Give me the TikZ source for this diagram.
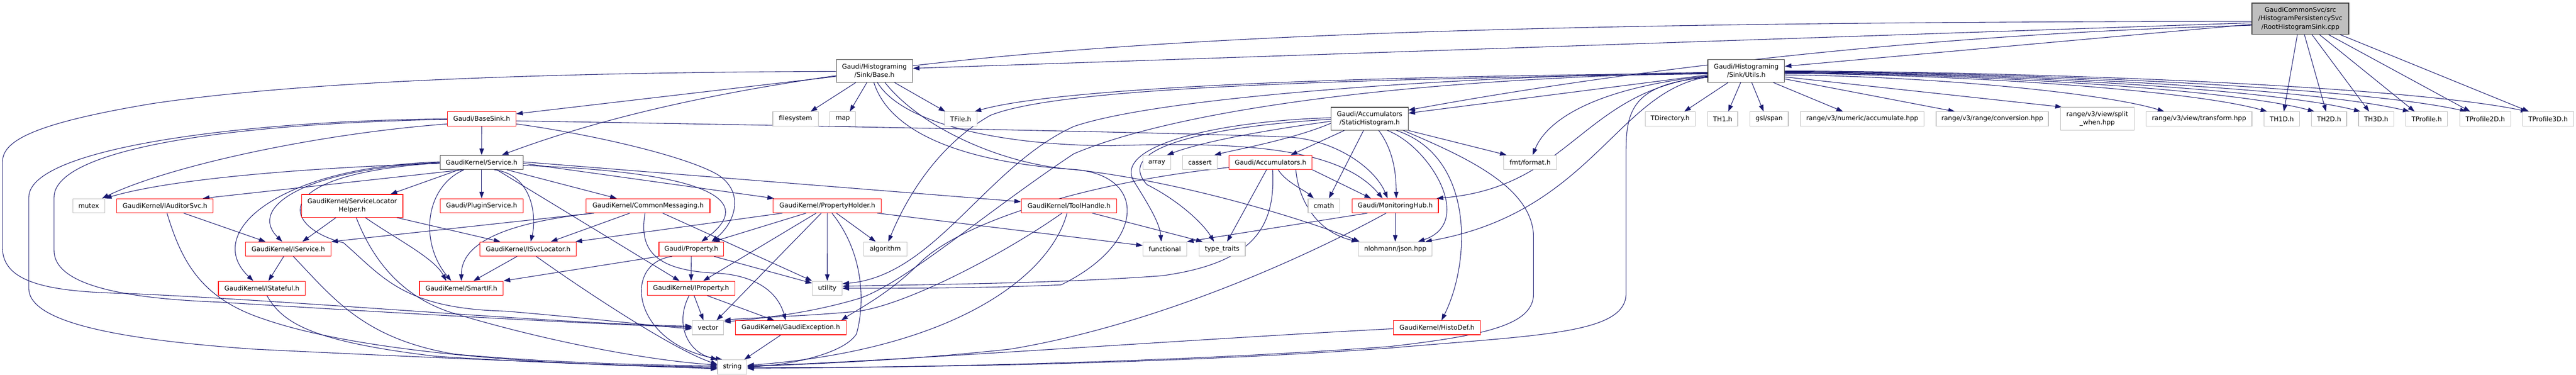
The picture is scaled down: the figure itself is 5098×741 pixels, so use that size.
\documentclass[tikz,border=0pt]{standalone}
\usepackage{fontspec}
\setmainfont{DejaVu Sans}
\usetikzlibrary{arrows.meta}
\definecolor{edgec}{HTML}{191970}
\definecolor{redb}{HTML}{FF0000}
\definecolor{grayb}{HTML}{BFBFBF}
\definecolor{blackb}{HTML}{404040}
\definecolor{rootfill}{HTML}{BFBFBF}
\pgfdeclarelayer{bgfill}
\pgfdeclarelayer{edges}
\pgfsetlayers{bgfill,edges,main}
\tikzset{
  nd/.style={draw, fill=white, rectangle, inner sep=0pt, line width=1.2pt, minimum height=28pt,
    font=\fontsize{12.8}{16.7}\selectfont, align=center, text=black},
  rednd/.style={nd, draw=redb},
  graynd/.style={nd, draw=grayb},
  blacknd/.style={nd, draw=blackb},
  rootnd/.style={nd, draw=blackb, fill=rootfill},
  edg/.style={draw=edgec, line width=1.1pt, -{Triangle[length=13pt,width=9pt]}},
}
\begin{document}
\begin{tikzpicture}[x=1pt,y=-1pt]
\begin{pgfonlayer}{bgfill}
\fill[white] (0,0) rectangle (5098,741);
\end{pgfonlayer}
\useasboundingbox (0,0) rectangle (5098,741);
% ---------- nodes ----------
\node[rootnd, minimum width=191.6pt, minimum height=61.8pt] (R) at (4552.5,37.1) {GaudiCommonSvc/src\\/HistogramPersistencySvc\\/RootHistogramSink.cpp};
\node[blacknd, minimum width=151pt, minimum height=45.2pt] (Bse) at (1730.5,140.1) {Gaudi/Histograming\\/Sink/Base.h};
\node[blacknd, minimum width=151.7pt, minimum height=45.2pt] (U) at (3455.8,140.1) {Gaudi/Histograming\\/Sink/Utils.h};
% row 2
\node[rednd, minimum width=135.3pt] (BS) at (953.3,235) {Gaudi/BaseSink.h};
\node[graynd, minimum width=90pt] (fs) at (1574.3,235) {filesystem};
\node[graynd, minimum width=51pt] (map) at (1667.8,235) {map};
\node[graynd, minimum width=64pt] (TFile) at (1901.3,235) {TFile.h};
\node[blacknd, minimum width=152.4pt, minimum height=45.2pt] (SH) at (2710.5,234.7) {Gaudi/Accumulators\\/StaticHistogram.h};
\node[graynd, minimum width=99.3pt] (TDir) at (3305.3,235) {TDirectory.h};
\node[graynd, minimum width=59.7pt] (TH1) at (3409.2,235) {TH1.h};
\node[graynd, minimum width=75.7pt] (gsl) at (3501.2,235) {gsl/span};
\node[graynd, minimum width=244pt] (racc) at (3685.3,235) {range/v3/numeric/accumulate.hpp};
\node[graynd, minimum width=222.3pt] (rconv) at (3942.8,235) {range/v3/range/conversion.hpp};
\node[graynd, minimum width=145.6pt, minimum height=45.2pt] (rsplit) at (4150.5,234.7) {range/v3/view/split\\\_when.hpp};
\node[graynd, minimum width=209.4pt] (rtrans) at (4352,235) {range/v3/view/transform.hpp};
\node[graynd, minimum width=69.7pt] (TH1D) at (4515.8,235) {TH1D.h};
\node[graynd, minimum width=70pt] (TH2D) at (4609.3,235) {TH2D.h};
\node[graynd, minimum width=69.6pt] (TH3D) at (4702.5,235) {TH3D.h};
\node[graynd, minimum width=82.4pt] (TPr) at (4802.5,235) {TProfile.h};
\node[graynd, minimum width=100.4pt] (TPr2) at (4918.5,235) {TProfile2D.h};
\node[graynd, minimum width=100.7pt] (TPr3) at (5042.7,235) {TProfile3D.h};
% row 3
\node[blacknd, minimum width=164.3pt] (Svc) at (953.2,321) {GaudiKernel/Service.h};
\node[graynd, minimum width=55.3pt] (array) at (2289.3,321) {array};
\node[graynd, minimum width=68pt] (cassert) at (2374.7,321) {cassert};
\node[rednd, minimum width=164.4pt] (Acc) at (2514.5,321) {Gaudi/Accumulators.h};
\node[graynd, minimum width=104.3pt] (fmt) at (3028.2,321) {fmt/format.h};
% row 4
\node[graynd, minimum width=63.3pt] (mutex) at (175.7,406.7) {mutex};
\node[rednd, minimum width=190.4pt] (IA) at (326.5,406.7) {GaudiKernel/IAuditorSvc.h};
\node[rednd, minimum width=200.6pt, minimum height=45.2pt] (SLH) at (697,406.9) {GaudiKernel/ServiceLocator\\Helper.h};
\node[rednd, minimum width=164.3pt] (PS) at (953.2,406.7) {Gaudi/PluginService.h};
\node[rednd, minimum width=245pt] (CM) at (1282.5,406.7) {GaudiKernel/CommonMessaging.h};
\node[rednd, minimum width=214pt] (PH) at (1637.3,406.7) {GaudiKernel/PropertyHolder.h};
\node[rednd, minimum width=189.3pt] (TH) at (2115.7,406.7) {GaudiKernel/ToolHandle.h};
\node[graynd, minimum width=62.6pt] (cmath) at (2620,406.7) {cmath};
\node[rednd, minimum width=171pt] (MH) at (2761.2,406.7) {Gaudi/MonitoringHub.h};
% row 5
\node[rednd, minimum width=169pt] (IS) at (570.5,492.3) {GaudiKernel/IService.h};
\node[rednd, minimum width=190.3pt] (ISL) at (1045.2,492.3) {GaudiKernel/ISvcLocator.h};
\node[rednd, minimum width=128.3pt] (Pr) at (1368.2,492.3) {Gaudi/Property.h};
\node[graynd, minimum width=85.4pt] (alg) at (1752,492.3) {algorithm};
\node[graynd, minimum width=86.3pt] (func) at (2305.2,492.3) {functional};
\node[graynd, minimum width=91.6pt] (tt) at (2418.5,492.3) {type\_traits};
\node[graynd, minimum width=145.7pt] (json) at (2761.2,492.3) {nlohmann/json.hpp};
% row 6
\node[rednd, minimum width=172pt] (ISt) at (518.3,569.8) {GaudiKernel/IStateful.h};
\node[rednd, minimum width=166pt] (SIF) at (913,569.8) {GaudiKernel/SmartIF.h};
\node[rednd, minimum width=173.3pt] (IP) at (1367.7,569.8) {GaudiKernel/IProperty.h};
\node[graynd, minimum width=59pt] (util) at (1637.2,569.8) {utility};
% row 7
\node[graynd, minimum width=62.3pt] (vec) at (1401.2,647.8) {vector};
\node[rednd, minimum width=218.6pt] (GE) at (1565,647.8) {GaudiKernel/GaudiException.h};
\node[rednd, minimum width=172.3pt] (HD) at (2843.8,647.8) {GaudiKernel/HistoDef.h};
% row 8
\node[graynd, minimum width=58pt] (str) at (1449.3,725.3) {string};
% ---------- edges ----------
\begin{pgfonlayer}{edges}
% root
\draw[edg] ([yshift=-8pt]R.west) -- ([yshift=5pt]Bse.east);
\draw[edg] ([yshift=-11pt]R.west) -- ([yshift=9pt]U.east);
\draw[edg] ([yshift=-13pt]R.west) .. controls (3700,70) and (3100,160) .. ([yshift=17pt]SH.east);
\draw[edg] ([yshift=-5pt]R.west) .. controls (2600,45) and (1600,80) .. ([xshift=40pt]Svc.north);
\draw[edg] ([xshift=-6pt]R.south) -- ([xshift=4pt]TH1D.north);
\draw[edg] ([xshift=8pt]R.south) -- ([xshift=-6pt]TH2D.north);
\draw[edg] ([xshift=23pt]R.south) -- ([xshift=-14pt]TH3D.north);
\draw[edg] ([xshift=38pt]R.south) -- ([xshift=-24pt]TPr.north);
\draw[edg] ([xshift=56pt]R.south) -- ([xshift=-30pt]TPr2.north);
\draw[edg] ([xshift=79pt]R.south) -- ([xshift=-38pt]TPr3.north);
% Utils
\draw[edg] ([xshift=-36pt]U.south) -- ([xshift=28pt]TDir.north);
\draw[edg] ([xshift=-11pt]U.south) -- ([xshift=11pt]TH1.north);
\draw[edg] ([xshift=11pt]U.south) -- ([xshift=-11pt]gsl.north);
\draw[edg] ([xshift=54pt]U.south) -- ([xshift=-38pt]racc.north);
\draw[edg] ([yshift=-16pt]U.east) -- ([xshift=-74pt]rconv.north);
\draw[edg] ([yshift=-12pt]U.east) -- ([xshift=-70pt]rsplit.north);
\draw[edg] ([yshift=-8pt]U.east) .. controls (3832,151) and (4170,185) .. ([xshift=-69pt]rtrans.north);
\draw[edg] ([yshift=-5pt]U.east) .. controls (3914,148) and (4343,180) .. ([xshift=-29pt]TH1D.north);
\draw[edg] ([yshift=-4pt]U.east) .. controls (3951,147) and (4423,178) .. ([xshift=-29pt]TH2D.north);
\draw[edg] ([yshift=-3pt]U.east) .. controls (3988,146) and (4500,177) .. ([xshift=-31pt]TH3D.north);
\draw[edg] ([yshift=-2pt]U.east) .. controls (4026,145) and (4583,176) .. ([xshift=-34pt]TPr.north);
\draw[edg] ([yshift=-1pt]U.east) .. controls (4071,144) and (4679,175) .. ([xshift=-37pt]TPr2.north);
\draw[edg] (U.east) .. controls (4119,143) and (4781,174) .. ([xshift=-41pt]TPr3.north);
\draw[edg] ([yshift=-8pt]U.west) -- ([yshift=11pt]SH.east);
\draw[edg] ([yshift=-10pt]U.west) .. controls (3150,175) and (3060,240) .. ([xshift=5pt]fmt.north);
\draw[edg] ([yshift=-11pt]U.west) .. controls (3130,180) and (3110,370) .. ([xshift=-4pt]MH.north east);
\draw[edg] ([yshift=-12pt]U.west) .. controls (3200,180) and (3150,420) .. ([xshift=-14pt]json.north east);
\draw[edg] ([yshift=-13pt]U.west) .. controls (3230,165) and (3218,220) .. (3218,300) -- (3218,580) .. controls (3218,660) and (3050,662) .. (2750,688) .. controls (2300,720) and (1800,727) .. ([yshift=-1pt]str.east);
\draw[edg] ([yshift=-5pt]U.west) .. controls (2700,150) and (2100,172) .. ([xshift=-5pt]TFile.north east);
\draw[edg] ([yshift=-6pt]U.west) .. controls (2500,158) and (2080,180) .. (1960,228) .. controls (1850,290) and (1790,400) .. ([xshift=6pt]alg.north);
\draw[edg] ([yshift=-3pt]U.west) .. controls (2900,150) and (2300,190) .. (2125,250) .. controls (1950,330) and (1850,545) .. ([yshift=9pt]util.east);
\draw[edg] ([yshift=-4pt]U.west) .. controls (2700,158) and (2300,230) .. (2125,304) .. controls (1950,420) and (1790,560) .. (1700,590) .. controls (1600,620) and (1500,630) .. ([yshift=-3pt]vec.north east);
% StaticHistogram
\draw[edg] ([xshift=-50pt]SH.south) -- ([xshift=40pt]Acc.north);
\draw[edg] ([xshift=-12pt]SH.south) -- ([xshift=10pt]cmath.north);
\draw[edg] ([xshift=18pt]SH.south) .. controls (2760,300) and (2763,350) .. ([xshift=2pt]MH.north);
\draw[edg] ([xshift=35pt]SH.south) .. controls (2830,290) and (2920,440) .. ([xshift=45pt]json.north);
\draw[edg] ([xshift=53pt]SH.south) .. controls (2920,310) and (2910,520) .. ([xshift=9pt]HD.north);
\draw[edg] (SH.south east) -- ([xshift=6pt]fmt.north west);
\draw[edg] ([xshift=-10pt]SH.south east) .. controls (2900,310) and (3035,370) .. (3035,470) -- (3035,580) .. controls (3035,640) and (2950,662) .. (2750,685) .. controls (2300,718) and (1800,726) .. ([yshift=-3pt]str.east);
\draw[edg] ([yshift=-5pt]SH.west) .. controls (2500,258) and (2380,280) .. ([xshift=-8pt]array.north east);
\draw[edg] ([yshift=-9pt]SH.west) .. controls (2560,275) and (2450,295) .. ([xshift=-6pt]cassert.north east);
\draw[edg] ([yshift=2pt]SH.west) .. controls (2400,240) and (2200,290) .. (2245,360) .. controls (2270,400) and (2295,440) .. ([xshift=-7pt]func.north);
\draw[edg] ([yshift=-1pt]SH.west) .. controls (2400,250) and (2200,290) .. (2270,365) .. controls (2330,395) and (2380,440) .. ([xshift=-16pt]tt.north);
% Accumulators
\draw[edg] ([xshift=15pt]Acc.south) .. controls (2545,360) and (2580,375) .. ([xshift=-20pt]cmath.north);
\draw[edg] (Acc.south east) -- ([xshift=-48pt]MH.north);
\draw[edg] ([xshift=50pt]Acc.south) .. controls (2570,400) and (2610,460) .. (json.north west);
\draw[edg] ([xshift=-8pt]Acc.south) -- ([xshift=10pt]tt.north);
\draw[edg] ([xshift=4pt]Acc.south) .. controls (2525,450) and (2480,520) .. (2300,545) .. controls (2100,560) and (1850,562) .. ([yshift=4pt]util.east);
\draw[edg] ([yshift=-10pt]Acc.west) .. controls (2150,360) and (1900,440) .. (1820,520) .. controls (1760,580) and (1700,610) .. ([xshift=-10pt]GE.north east);
% MonitoringHub
\draw[edg] (MH.south) -- (json.north);
\draw[edg] ([xshift=-55pt]MH.south) -- (func.north east);
\draw[edg] ([xshift=-18pt]MH.south) .. controls (2600,500) and (2300,640) .. (2000,690) .. controls (1800,712) and (1600,720) .. ([yshift=1pt]str.east);
% HistoDef
\draw[edg] ([yshift=-2pt]HD.west) .. controls (2400,668) and (1700,718) .. ([yshift=2pt]str.east);
% ToolHandle
\draw[edg] ([xshift=46pt]TH.south) -- ([xshift=8pt]tt.north west);
\draw[edg] ([xshift=-14pt]TH.south) .. controls (1990,500) and (1800,600) .. (1700,615) .. controls (1600,625) and (1480,628) .. (vec.north east);
\draw[edg] ([xshift=-4pt]TH.south) .. controls (2080,540) and (1900,690) .. ([yshift=3pt]str.east);
% PropertyHolder
\draw[edg] ([xshift=-42pt]PH.south) -- ([xshift=43pt]Pr.north);
\draw[edg] ([xshift=-22pt]PH.south) -- ([xshift=24pt]IP.north);
\draw[edg] ([xshift=-12pt]PH.south) -- ([xshift=17pt]vec.north);
\draw[edg] (PH.south) -- (util.north);
\draw[edg] ([xshift=18pt]PH.south) -- ([xshift=-19pt]alg.north);
\draw[edg] ([xshift=99pt]PH.south) -- ([yshift=7pt]func.west);
\draw[edg] ([xshift=9pt]PH.south) .. controls (1710,500) and (1712,600) .. (1695,660) .. controls (1670,700) and (1560,722) .. (str.east);
\draw[edg] ([xshift=-89pt]PH.south) -- ([xshift=-2pt]ISL.north east);
% CommonMessaging
\draw[edg] ([xshift=-36pt]CM.south) -- ([xshift=45pt]ISL.north);
\draw[edg] ([xshift=-107pt]CM.south) .. controls (1000,440) and (913,480) .. (SIF.north);
\draw[edg] ([xshift=-108pt]CM.south) -- (IS.north east);
\draw[edg] ([xshift=29pt]CM.south) -- (util.north west);
\draw[edg] ([xshift=-6pt]CM.south) .. controls (1265,490) and (1290,535) .. (1420,540) .. controls (1500,545) and (1540,580) .. ([xshift=-10pt]GE.north);
% Property
\draw[edg] (Pr.south) -- (IP.north);
\draw[edg] ([xshift=45pt]Pr.south) -- ([yshift=10pt]util.west);
\draw[edg] (Pr.south west) -- (SIF.north east);
\draw[edg] ([xshift=-38pt]Pr.south) .. controls (1230,520) and (1250,680) .. ([xshift=-20pt]str.north);
% IProperty
\draw[edg] ([xshift=6pt]IP.south) -- ([xshift=-9pt]vec.north);
\draw[edg] ([xshift=-4pt]IP.south) .. controls (1335,640) and (1360,695) .. (str.north west);
\draw[edg] ([xshift=32pt]IP.south) -- ([xshift=-33pt]GE.north);
% GaudiException
\draw[edg] ([xshift=-20pt]GE.south) -- ([xshift=-6pt]str.north east);
% ISvcLocator
\draw[edg] ([xshift=-22pt]ISL.south) -- ([xshift=24pt]SIF.north);
\draw[edg] ([xshift=16pt]ISL.south) .. controls (1150,570) and (1330,690) .. ([yshift=5pt]str.west);
% IService
\draw[edg] ([xshift=-9pt]IS.south) -- ([xshift=13pt]ISt.north);
\draw[edg] ([xshift=10pt]IS.south) .. controls (660,590) and (720,670) .. (900,700) .. controls (1100,718) and (1300,722) .. ([yshift=2pt]str.west);
% IStateful
\draw[edg] ([xshift=10pt]ISt.south) .. controls (560,640) and (620,675) .. (860,704) .. controls (1100,720) and (1300,724) .. (str.west);
% IAuditorSvc
\draw[edg] ([xshift=37pt]IA.south) -- ([xshift=-45pt]IS.north);
\draw[edg] ([xshift=4pt]IA.south) .. controls (360,520) and (400,590) .. (520,630) .. controls (720,700) and (1100,722) .. ([yshift=-2pt]str.west);
% ServiceLocatorHelper
\draw[edg] ([xshift=-32pt]SLH.south) -- ([xshift=28pt]IS.north);
\draw[edg] ([xshift=88pt]SLH.south) -- ([xshift=-55pt]ISL.north);
\draw[edg] ([xshift=26pt]SLH.south) .. controls (780,470) and (860,510) .. ([xshift=-30pt]SIF.north);
\draw[edg] ([xshift=8pt]SLH.south) .. controls (740,520) and (800,590) .. (900,620) .. controls (1100,680) and (1300,714) .. ([yshift=4pt]str.west);
% Service
\draw[edg] (Svc.south) -- (PS.north);
\draw[edg] ([yshift=-2pt]Svc.west) .. controls (650,330) and (350,350) .. (mutex.north east);
\draw[edg] ([xshift=-37pt]Svc.south) -- ([xshift=75pt]IA.north);
\draw[edg] ([xshift=-45pt]Svc.south) -- ([xshift=-25pt]SLH.north east);
\draw[edg] ([xshift=50pt]Svc.south) -- ([xshift=-62pt]CM.north);
\draw[edg] ([yshift=-2pt]Svc.east) -- ([xshift=2pt]PH.north west);
\draw[edg] ([yshift=1pt]Svc.east) -- ([yshift=8pt]TH.west);
\draw[edg] ([yshift=-6pt]Svc.east) .. controls (1400,340) and (1500,395) .. ([xshift=20pt]Pr.north);
\draw[edg] ([xshift=30pt]Svc.south) -- ([xshift=-23pt]IP.north);
\draw[edg] ([xshift=25pt]Svc.south) .. controls (1055,345) and (1062,430) .. ([xshift=5pt]ISL.north);
\draw[edg] ([xshift=-35pt]Svc.south) .. controls (840,370) and (830,480) .. ([xshift=-20pt]SIF.north);
\draw[edg] (Svc.west) .. controls (600,335) and (490,410) .. ([xshift=-12pt]IS.north);
\draw[edg] ([yshift=1pt]Svc.west) .. controls (550,330) and (400,460) .. ([xshift=-17pt]ISt.north);
\draw[edg] ([yshift=-1pt]Svc.west) .. controls (520,345) and (560,450) .. (680,480) .. controls (760,550) and (800,610) .. (1000,615) .. controls (1200,632) and (1300,645) .. ([yshift=-2pt]vec.west);
% BaseSink
\draw[edg] (BS.south) -- (Svc.north);
\draw[edg] ([yshift=-10pt]BS.west) .. controls (620,265) and (330,330) .. ([xshift=-6pt]mutex.north east);
\draw[edg] (BS.west) .. controls (500,238) and (57,290) .. (57,390) -- (57,570) .. controls (57,640) and (250,672) .. (500,690) .. controls (900,710) and (1250,722) .. ([yshift=-4pt]str.west);
\draw[edg] ([yshift=-1pt]BS.west) .. controls (420,245) and (107,300) .. (107,390) -- (107,495) .. controls (107,565) and (250,590) .. (430,597) .. controls (800,620) and (1200,642) .. ([yshift=1pt]vec.west);
\draw[edg] ([yshift=-4pt]BS.east) .. controls (1400,245) and (2350,262) .. (2550,271) .. controls (2640,276) and (2720,330) .. ([xshift=-15pt]MH.north);
\draw[edg] ([yshift=-10pt]BS.east) .. controls (1150,262) and (1350,305) .. (1420,345) .. controls (1475,380) and (1455,440) .. ([xshift=40pt]Pr.north);
% Base
\draw[edg] ([yshift=-11pt]Bse.west) -- ([yshift=10pt]BS.east);
\draw[edg] ([yshift=-1pt]Bse.west) .. controls (1100,143) and (600,160) .. (300,205) .. controls (60,245) and (5,280) .. (5,320) -- (5,490) .. controls (5,560) and (100,577) .. (250,580) .. controls (600,595) and (1100,640) .. ([yshift=3pt]vec.west);
\draw[edg] ([xshift=-37pt]Bse.south) -- ([xshift=30pt]fs.north);
\draw[edg] ([xshift=-15pt]Bse.south) -- ([xshift=14pt]map.north);
\draw[edg] ([xshift=40pt]Bse.south) -- ([xshift=2pt]TFile.north west);
\draw[edg] ([xshift=-1pt]Bse.south) .. controls (1760,260) and (1900,320) .. (2125,335) .. controls (2350,360) and (2600,440) .. ([xshift=3pt]json.north west);
\draw[edg] ([xshift=6pt]Bse.south) .. controls (1790,250) and (2000,288) .. (2200,288) .. controls (2450,280) and (2650,290) .. ([xshift=-25pt]MH.north);
\draw[edg] ([xshift=21pt]Bse.south) .. controls (1820,250) and (1980,325) .. (2125,335) .. controls (2270,345) and (2270,480) .. (2100,563) .. controls (1950,570) and (1750,570) .. (util.east);
\end{pgfonlayer}
\end{tikzpicture}
\end{document}
